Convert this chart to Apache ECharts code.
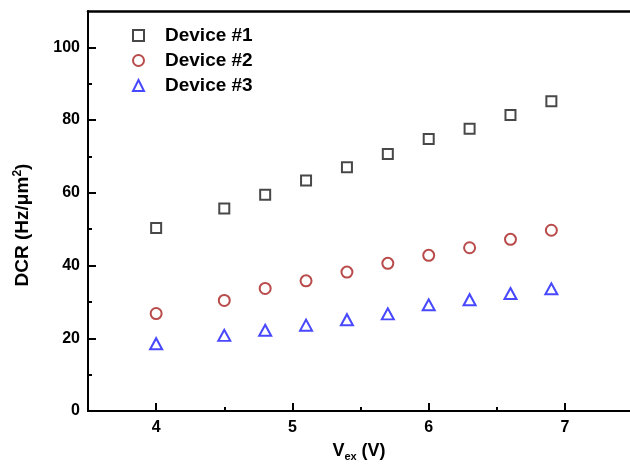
<!DOCTYPE html>
<html>
<head>
<meta charset="utf-8">
<script src="https://cdn.jsdelivr.net/npm/echarts@6/dist/echarts.min.js"></script>
<style>html,body{margin:0;padding:0;background:#fff}#c{width:630px;height:467px}</style>
</head>
<body>
<div id="c"></div>
<script>
var vex = [4.0, 4.5, 4.8, 5.1, 5.4, 5.7, 6.0, 6.3, 6.6, 6.9];
var dev1 = [50.3, 55.7, 59.5, 63.4, 67.0, 70.7, 74.8, 77.6, 81.4, 85.2];
var dev2 = [26.8, 30.4, 33.7, 35.8, 38.2, 40.6, 42.8, 44.9, 47.2, 49.7];
var dev3 = [18.5, 20.8, 22.2, 23.6, 25.1, 26.7, 29.2, 30.6, 32.3, 33.6];
var seriesNames = ['Device #1', 'Device #2', 'Device #3'];
var xMajor = [4, 5, 6, 7];
var xMinor = [4.5, 5.5, 6.5];
var yMajor = [0, 20, 40, 60, 80, 100];
var yMinor = [10, 30, 50, 70, 90];

function pairs(ys) { return vex.map(function (x, i) { return [x, ys[i]]; }); }

var font = 'Liberation Sans, Arial, sans-serif';
var xMin = 3.5, xMax = 7.477;
var chart = echarts.init(document.getElementById('c'), null, {renderer: 'canvas'});
var axisLine = {show: true, lineStyle: {color: '#000', width: 2}};
chart.setOption({
  animation: false,
  grid: {left: 88, top: 11, bottom: 56, right: 0, show: false},
  legend: {
    orient: 'vertical', left: 127, top: 21, itemWidth: 11, itemHeight: 11, itemGap: 6,
    data: seriesNames,
    textStyle: {fontFamily: font, fontWeight: 'bold', fontSize: 19, color: '#000', padding: [0, 0, 0, 16]}
  },
  xAxis: [{
    type: 'value', min: xMin, max: xMax,
    name: '{a|V}{b|ex}{a| (V)}', nameLocation: 'middle', nameGap: 30,
    nameTextStyle: {rich: {
      a: {fontFamily: font, fontWeight: 'bold', fontSize: 18, color: '#000'},
      b: {fontFamily: font, fontWeight: 'bold', fontSize: 11, color: '#000', padding: [10, 0, 0, 0]}
    }},
    axisLine: axisLine,
    axisTick: {show: true, inside: true, length: 8, customValues: xMajor, lineStyle: {color: '#000', width: 2}},
    axisLabel: {customValues: xMajor, margin: 9, fontFamily: font, fontWeight: 'bold', fontSize: 16, color: '#000'},
    splitLine: {show: false}
  }, {
    type: 'value', min: xMin, max: xMax, position: 'bottom',
    axisLine: {show: false},
    axisTick: {show: true, inside: true, length: 4, customValues: xMinor, lineStyle: {color: '#000', width: 2}},
    axisLabel: {show: false}, splitLine: {show: false}
  }, {
    type: 'value', min: xMin, max: xMax, position: 'top',
    axisLine: {show: true, lineStyle: {color: '#000', width: 2.5}},
    axisTick: {show: false}, axisLabel: {show: false}, splitLine: {show: false}
  }],
  yAxis: [{
    type: 'value', min: 0, max: 110,
    name: 'DCR (Hz/μm{s|2})', nameLocation: 'middle', nameGap: 55,
    nameTextStyle: {fontFamily: font, fontWeight: 'bold', fontSize: 19, color: '#000', padding: [0, 28, 0, 0],
      rich: {s: {fontFamily: font, fontWeight: 'bold', fontSize: 12, color: '#000', padding: [0, 0, 9, 0]}}},
    axisLine: axisLine,
    axisTick: {show: true, inside: true, length: 8, customValues: yMajor, lineStyle: {color: '#000', width: 2}},
    axisLabel: {customValues: yMajor, margin: 8, fontFamily: font, fontWeight: 'bold', fontSize: 16, color: '#000'},
    splitLine: {show: false}
  }, {
    type: 'value', min: 0, max: 110, position: 'left',
    axisLine: {show: false},
    axisTick: {show: true, inside: true, length: 4, customValues: yMinor, lineStyle: {color: '#000', width: 2}},
    axisLabel: {show: false}, splitLine: {show: false}
  }],
  series: [{
    name: seriesNames[0], type: 'scatter', symbol: 'rect', symbolSize: 10, data: pairs(dev1),
    itemStyle: {color: 'rgba(255,255,255,0)', borderColor: '#1a1a1a', borderWidth: 2}
  }, {
    name: seriesNames[1], type: 'scatter', symbol: 'circle', symbolSize: 11, data: pairs(dev2),
    itemStyle: {color: 'rgba(255,255,255,0)', borderColor: '#a81e1e', borderWidth: 2}
  }, {
    name: seriesNames[2], type: 'scatter', symbol: 'triangle', symbolSize: [12, 11], data: pairs(dev3),
    itemStyle: {color: 'rgba(255,255,255,0)', borderColor: '#1a1aff', borderWidth: 2}
  }]
});
</script>
</body>
</html>
